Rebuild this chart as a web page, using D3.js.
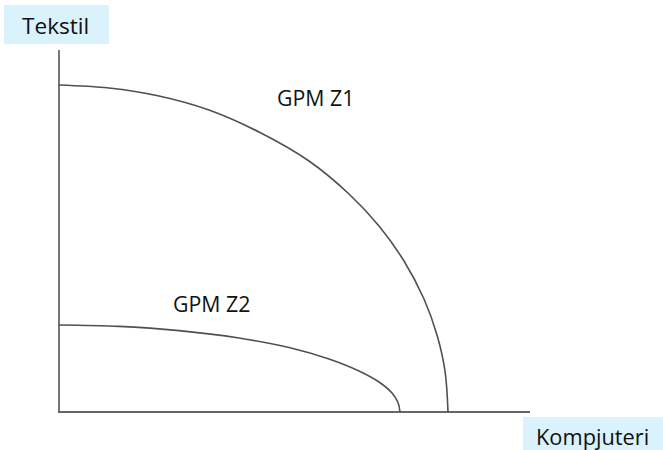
<!DOCTYPE html>
<html>
<head>
<meta charset="utf-8">
<script src="https://cdn.jsdelivr.net/npm/d3@7"></script>
<style>
  html, body { margin: 0; padding: 0; background: #fff; }
  svg { display: block; }
  text { font-family: "Open Sans", "DejaVu Sans", sans-serif; fill: #111; }
</style>
</head>
<body>
<svg id="chart" width="663" height="450"></svg>
<script>
// Production possibility frontiers (arbitrary units)
const z1Kompjuteri = [0, 50, 100, 150, 200, 250, 290, 320, 345, 365, 378, 386, 389];
const z1Tekstil    = [327, 324, 316, 302, 280, 251, 218, 186, 151, 113, 77, 41, 0];
const z2Kompjuteri = [0, 60, 120, 180, 230, 270, 300, 320, 333, 339, 341];
const z2Tekstil    = [87, 85.6, 81.4, 74, 64.5, 53, 41, 30, 19, 9.5, 0];
const curveLabels  = ["GPM Z1", "GPM Z2"];
const axisLabels   = ["Kompjuteri", "Tekstil"];
const xMax = 471, yMax = 362;

const svg = d3.select("#chart");
const x = d3.scaleLinear().domain([0, xMax]).range([59, 530]);
const y = d3.scaleLinear().domain([0, yMax]).range([412, 50]);

// axes
svg.append("line").attr("x1", x(0)).attr("x2", x(0)).attr("y1", y(0) + 1).attr("y2", y(yMax))
  .attr("stroke", "#777").attr("stroke-width", 2);
svg.append("line").attr("x1", x(0) - 1).attr("x2", x(xMax)).attr("y1", y(0)).attr("y2", y(0))
  .attr("stroke", "#666").attr("stroke-width", 2);

const line = d3.line().x(d => x(d[0])).y(d => y(d[1])).curve(d3.curveCatmullRom.alpha(0.5));
const series = [
  d3.zip(z1Kompjuteri, z1Tekstil),
  d3.zip(z2Kompjuteri, z2Tekstil)
];
svg.selectAll("path.ppf").data(series).join("path")
  .attr("class", "ppf")
  .attr("d", line)
  .attr("fill", "none")
  .attr("stroke", "#505050")
  .attr("stroke-width", 1.6);

// curve labels
svg.append("text").attr("x", 277).attr("y", 106).attr("font-size", 21.3).text(curveLabels[0]);
svg.append("text").attr("x", 173).attr("y", 312).attr("font-size", 21.3).text(curveLabels[1]);

// axis label boxes
svg.append("rect").attr("x", 4).attr("y", 5).attr("width", 105).attr("height", 39).attr("fill", "#daf2fb");
svg.append("text").attr("x", 22).attr("y", 34).attr("font-size", 22.6).text(axisLabels[1]);
svg.append("rect").attr("x", 523).attr("y", 417).attr("width", 140).attr("height", 33).attr("fill", "#daf2fb");
svg.append("text").attr("x", 536).attr("y", 445).attr("font-size", 21.8).text(axisLabels[0]);
</script>
</body>
</html>
